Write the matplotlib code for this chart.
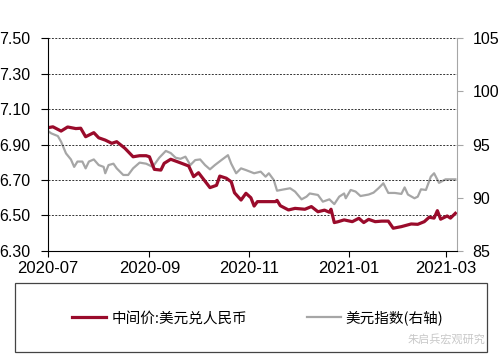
import matplotlib
matplotlib.use("Agg")
import matplotlib.pyplot as plt
import matplotlib.dates as mdates
from matplotlib.patches import Rectangle
from matplotlib import font_manager
import numpy as np

narrow = 'Liberation Sans Narrow'
names = {f.name for f in font_manager.fontManager.ttflist}
if narrow not in names:
    narrow = 'Liberation Sans'
plt.rcParams['font.family'] = [narrow, 'Noto Sans CJK SC', 'DejaVu Sans']

# 中间价:美元兑人民币 (left axis)
cny_dates = ['2020-07-01', '2020-07-04', '2020-07-09', '2020-07-13', '2020-07-18', '2020-07-21',
             '2020-07-24', '2020-07-29', '2020-08-01', '2020-08-05', '2020-08-09', '2020-08-12',
             '2020-08-17', '2020-08-22', '2020-08-26', '2020-08-30', '2020-09-01', '2020-09-04',
             '2020-09-08', '2020-09-10', '2020-09-14', '2020-09-19', '2020-09-25', '2020-09-28',
             '2020-10-01', '2020-10-08', '2020-10-12', '2020-10-14', '2020-10-18', '2020-10-21',
             '2020-10-23', '2020-10-27', '2020-10-30', '2020-11-02', '2020-11-04', '2020-11-06',
             '2020-11-17', '2020-11-18', '2020-11-20', '2020-11-25', '2020-11-29', '2020-12-05',
             '2020-12-09', '2020-12-13', '2020-12-17', '2020-12-20', '2020-12-21', '2020-12-23',
             '2020-12-25', '2020-12-29', '2021-01-03', '2021-01-07', '2021-01-10', '2021-01-13',
             '2021-01-17', '2021-01-21', '2021-01-25', '2021-01-28', '2021-02-02', '2021-02-08',
             '2021-02-12', '2021-02-16', '2021-02-19', '2021-02-22', '2021-02-24', '2021-02-26',
             '2021-03-02', '2021-03-04', '2021-03-07']
cny_values = [6.995, 7.000, 6.976, 6.999, 6.990, 6.992,
              6.944, 6.967, 6.938, 6.925, 6.907, 6.916,
              6.879, 6.831, 6.837, 6.837, 6.831, 6.760,
              6.756, 6.794, 6.817, 6.800, 6.779, 6.719,
              6.741, 6.657, 6.670, 6.722, 6.710, 6.690,
              6.628, 6.587, 6.625, 6.600, 6.553, 6.578,
              6.578, 6.585, 6.555, 6.531, 6.540, 6.535,
              6.550, 6.521, 6.530, 6.518, 6.535, 6.460,
              6.464, 6.475, 6.465, 6.484, 6.460, 6.478,
              6.465, 6.468, 6.468, 6.428, 6.437, 6.452,
              6.450, 6.465, 6.490, 6.485, 6.527, 6.479,
              6.497, 6.485, 6.512]

# 美元指数 (right axis)
dxy_dates = ['2020-07-01', '2020-07-03', '2020-07-07', '2020-07-09', '2020-07-12', '2020-07-15',
             '2020-07-17', '2020-07-19', '2020-07-22', '2020-07-24', '2020-07-26', '2020-07-29',
             '2020-08-01', '2020-08-04', '2020-08-05', '2020-08-07', '2020-08-10', '2020-08-12',
             '2020-08-16', '2020-08-19', '2020-08-22', '2020-08-26', '2020-08-30', '2020-09-03',
             '2020-09-07', '2020-09-11', '2020-09-14', '2020-09-17', '2020-09-20', '2020-09-23',
             '2020-09-26', '2020-09-29', '2020-10-02', '2020-10-05', '2020-10-08', '2020-10-11',
             '2020-10-15', '2020-10-19', '2020-10-21', '2020-10-24', '2020-10-27', '2020-10-30',
             '2020-11-04', '2020-11-08', '2020-11-11', '2020-11-13', '2020-11-16', '2020-11-18',
             '2020-11-22', '2020-11-26', '2020-11-29', '2020-12-03', '2020-12-06', '2020-12-08',
             '2020-12-13', '2020-12-16', '2020-12-20', '2020-12-23', '2020-12-26', '2020-12-29',
             '2020-12-30', '2021-01-02', '2021-01-05', '2021-01-08', '2021-01-13', '2021-01-16',
             '2021-01-19', '2021-01-22', '2021-01-25', '2021-01-29', '2021-02-02', '2021-02-04',
             '2021-02-06', '2021-02-10', '2021-02-12', '2021-02-14', '2021-02-17', '2021-02-20',
             '2021-02-22', '2021-02-25', '2021-03-01', '2021-03-07']
dxy_values = [96.27, 96.05, 95.80, 95.27, 94.17, 93.60,
              92.90, 93.40, 93.40, 92.76, 93.40, 93.60,
              93.07, 92.90, 92.30, 93.07, 93.20, 92.76,
              92.14, 92.14, 92.76, 93.30, 93.20, 92.90,
              93.76, 94.40, 94.20, 93.76, 93.66, 93.86,
              93.07, 93.54, 93.60, 93.07, 92.67, 93.07,
              93.54, 94.00, 93.20, 92.30, 92.76, 92.60,
              92.30, 92.45, 91.98, 92.30, 91.67, 90.66,
              90.78, 90.89, 90.58, 89.85, 90.10, 90.40,
              90.26, 89.63, 89.85, 89.40, 90.10, 90.40,
              89.95, 90.73, 90.58, 90.16, 90.30, 90.48,
              90.89, 91.36, 90.45, 90.45, 90.36, 90.97,
              90.30, 89.95, 90.10, 90.79, 90.73, 91.98,
              92.30, 91.40, 91.73, 91.73]

x_ticks = ['2020-07-01', '2020-09-01', '2020-11-01', '2021-01-01', '2021-03-01']
left_ticks = [6.30, 6.50, 6.70, 6.90, 7.10, 7.30, 7.50]
right_ticks = [85, 90, 95, 100, 105]

label_cny = '中间价:美元兑人民币'
label_dxy = '美元指数(右轴)'
watermark = '朱启兵宏观研究'

red = '#9a0b2b'
gray = '#a6a6a6'

fig = plt.figure(figsize=(5, 3.6), dpi=100)
ax = fig.add_axes([0.096, 0.303, 0.818, 0.591])
ax2 = ax.twinx()

cd = np.array(cny_dates, dtype='datetime64[D]')
dd = np.array(dxy_dates, dtype='datetime64[D]')
xt = np.array(x_ticks, dtype='datetime64[D]')

l2, = ax2.plot(dd, dxy_values, color=gray, lw=1.6, label=label_dxy)
l1, = ax.plot(cd, cny_values, color=red, lw=2.3, label=label_cny)
ax.set_zorder(ax2.get_zorder() + 1)
ax.patch.set_visible(False)

ax.set_ylim(6.30, 7.50)
ax.set_yticks(left_ticks)
ax.set_yticklabels([f'{v:.2f}' for v in left_ticks])
ax2.set_ylim(85, 105)
ax2.set_yticks(right_ticks)

ax.set_xlim(np.datetime64('2020-07-01'), np.datetime64('2021-03-08'))
ax.set_xticks(xt)
ax.xaxis.set_major_formatter(mdates.DateFormatter('%Y-%m'))

for v in left_ticks[1:]:
    ax.axhline(v, color='#333333', lw=0.7, ls=(0, (2, 1.5)), zorder=0)

ax.spines['top'].set_visible(False)
ax2.spines['top'].set_visible(False)
ax.spines['right'].set_visible(False)
ax2.spines['left'].set_visible(False)
ax2.spines['bottom'].set_visible(False)
ax2.spines['right'].set_color(gray)

ax.tick_params(axis='y', direction='out', length=5, width=0.8, pad=8, labelsize=11.5)
ax.tick_params(axis='x', direction='out', length=4, width=0.8, pad=3, labelsize=12)
ax2.tick_params(axis='y', direction='out', length=4, width=0.8, color=gray, pad=7, labelsize=11.5)

# legend box below the chart
fig.patches.append(Rectangle((0.03, 0.022), 0.944, 0.192, transform=fig.transFigure,
                             fill=False, edgecolor='#444444', lw=0.9))
fig.legend(handles=[l1, l2], loc='center', bbox_to_anchor=(0.516, 0.117), ncol=2,
           frameon=False, handlelength=2.33, handletextpad=0.34, columnspacing=4.1,
           prop={'family': ['Noto Sans CJK SC'], 'size': 10.5})
fig.text(0.97, 0.058, watermark, ha='right', va='center', color='#c8c8c8',
         fontsize=8, family=['Noto Sans CJK SC'])

fig.savefig('out.png', dpi=100)
